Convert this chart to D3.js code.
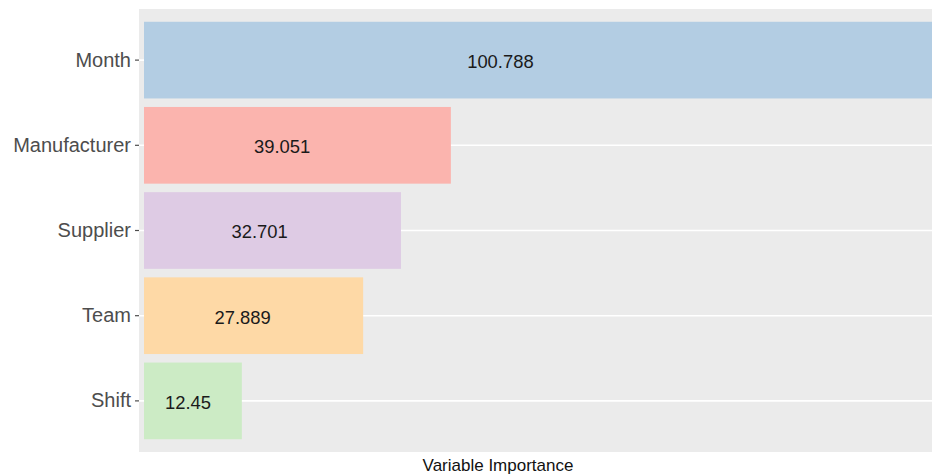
<!DOCTYPE html>
<html>
<head>
<meta charset="utf-8">
<script src="https://cdn.jsdelivr.net/npm/d3@7"></script>
<style>
  html, body { margin: 0; padding: 0; background: #ffffff; }
  svg { display: block; font-family: "Liberation Sans", Arial, sans-serif; }
</style>
</head>
<body>
<svg id="chart" width="932" height="476"></svg>
<script>
// Variable importance per feature
const categories = ["Month", "Manufacturer", "Supplier", "Team", "Shift"];
const importance = [100.788, 39.051, 32.701, 27.889, 12.45];
const valueLabels = ["100.788", "39.051", "32.701", "27.889", "12.45"];
const barColors = ["#B3CDE3", "#FBB4AE", "#DECBE4", "#FED9A6", "#CCEBC5"];
const axisTitle = "Variable Importance";

const data = categories.map((c, i) => ({
  name: c, value: importance[i], label: valueLabels[i], color: barColors[i]
}));

const panel = { left: 139, top: 9, right: 940, bottom: 452 };

const svg = d3.select("#chart");

const x = d3.scaleLinear()
  .domain([0, d3.max(importance)])
  .range([144, 936]);

const y = d3.scaleBand()
  .domain(categories)
  .range([panel.top, panel.bottom])
  .paddingInner(0.1)
  .paddingOuter(0.15);

// panel background
svg.append("rect")
  .attr("x", panel.left).attr("y", panel.top)
  .attr("width", panel.right - panel.left)
  .attr("height", panel.bottom - panel.top)
  .attr("fill", "#EBEBEB");

// horizontal gridlines at each category
svg.append("g").selectAll("line")
  .data(categories)
  .join("line")
  .attr("x1", panel.left).attr("x2", panel.right)
  .attr("y1", d => y(d) + y.bandwidth() / 2)
  .attr("y2", d => y(d) + y.bandwidth() / 2)
  .attr("stroke", "#ffffff")
  .attr("stroke-width", 1.6);

// bars
svg.append("g").selectAll("rect")
  .data(data)
  .join("rect")
  .attr("x", x(0))
  .attr("y", d => y(d.name))
  .attr("width", d => x(d.value) - x(0))
  .attr("height", y.bandwidth())
  .attr("fill", d => d.color);

// value labels inside bars
svg.append("g").selectAll("text")
  .data(data)
  .join("text")
  .attr("x", d => x(d.value * 0.45))
  .attr("y", d => y(d.name) + y.bandwidth() / 2 + 1.5)
  .attr("dy", "0.35em")
  .attr("text-anchor", "middle")
  .attr("font-size", "18.4px")
  .attr("fill", "#1a1a1a")
  .text(d => d.label);

// y axis: tick marks and category labels
const yAxis = d3.axisLeft(y).tickSize(4).tickPadding(4);
const gy = svg.append("g")
  .attr("transform", `translate(${panel.left},0)`)
  .call(yAxis);
gy.select(".domain").remove();
gy.selectAll(".tick line").attr("stroke", "#4D4D4D").attr("stroke-width", 1.2);
gy.selectAll(".tick text")
  .attr("font-size", "20px")
  .attr("fill", "#4D4D4D")
  .attr("font-family", "'Liberation Sans', Arial, sans-serif");

// x axis title
svg.append("text")
  .attr("x", 498)
  .attr("y", 471)
  .attr("text-anchor", "middle")
  .attr("font-size", "17px")
  .attr("fill", "#111111")
  .text(axisTitle);
</script>
</body>
</html>
